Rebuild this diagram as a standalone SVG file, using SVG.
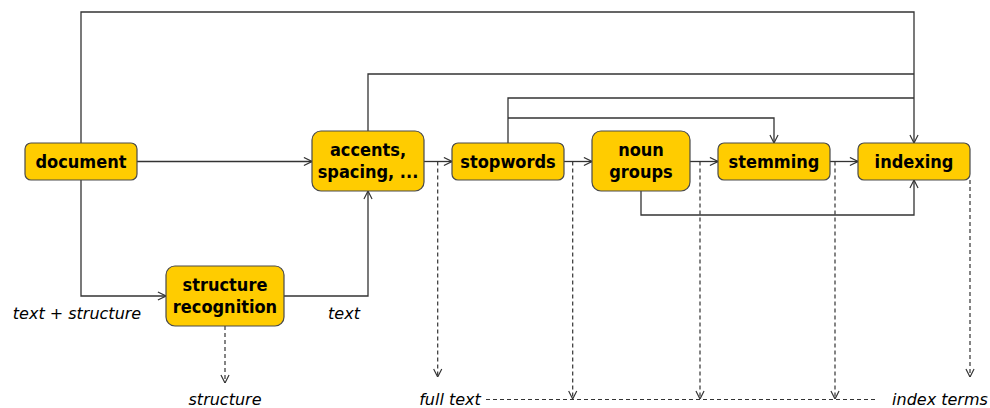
<svg xmlns="http://www.w3.org/2000/svg" width="990" height="408" viewBox="0 0 990 408">
<style>
.node rect{fill:#FFCC00;stroke:#4a4a4a;stroke-width:1.2}
.node text{font-family:"DejaVu Sans Condensed","DejaVu Sans",Verdana,sans-serif;font-stretch:condensed;font-weight:bold;font-size:18px;fill:#000;text-anchor:middle}
.lbl{font-family:"DejaVu Sans",Verdana,sans-serif;font-style:italic;font-size:16px;fill:#000;text-anchor:middle}
.c{fill:none;stroke:#333;stroke-width:1.3}
.d{fill:none;stroke:#333;stroke-width:1.2;stroke-dasharray:4 3}
</style>
<defs>
<marker id="a" viewBox="0 0 10 10" refX="10" refY="5" markerWidth="9" markerHeight="10" markerUnits="userSpaceOnUse" orient="auto">
<path d="M1,0.5 L10,5 L1,9.5" fill="none" stroke="#333" stroke-width="1.3"/>
</marker>
</defs>
<g id="connectors">
<path class="c" d="M137,161.5 H312" marker-end="url(#a)"/>
<path class="c" d="M424,161.5 H452" marker-end="url(#a)"/>
<path class="c" d="M564,161.5 H592" marker-end="url(#a)"/>
<path class="c" d="M690,161.5 H718" marker-end="url(#a)"/>
<path class="c" d="M830,161.5 H858" marker-end="url(#a)"/>
<path class="c" d="M81,143 V12 H914 V143" marker-end="url(#a)"/>
<path class="c" d="M368,131 V74 H914"/>
<path class="c" d="M508,143 V98 H914"/>
<path class="c" d="M508,118 H774 V143" marker-end="url(#a)"/>
<path class="c" d="M641,191 V215 H914 V180" marker-end="url(#a)"/>
<path class="c" d="M81,180 V296 H166" marker-end="url(#a)"/>
<path class="c" d="M284,296 H368 V191" marker-end="url(#a)"/>
<path class="d" d="M225,326 V383" marker-end="url(#a)"/>
<path class="d" d="M437.7,161.5 V377" marker-end="url(#a)"/>
<path class="d" d="M572.7,161.5 V399" marker-end="url(#a)"/>
<path class="d" d="M700,161.5 V399" marker-end="url(#a)"/>
<path class="d" d="M835,161.5 V399" marker-end="url(#a)"/>
<path class="d" d="M970,180 V377" marker-end="url(#a)"/>
<path class="d" d="M486,399.5 H878"/>
</g>
<g id="document" class="node"><rect x="25" y="143" width="112" height="37" rx="6"/><text x="81" y="167.5">document</text></g>
<g id="accents" class="node"><rect x="312" y="131" width="112" height="60" rx="9"/><text x="368" y="156">accents,</text><text x="368" y="178">spacing, ...</text></g>
<g id="stopwords" class="node"><rect x="452" y="143" width="112" height="37" rx="6"/><text x="508" y="167.5">stopwords</text></g>
<g id="noun-groups" class="node"><rect x="592" y="131" width="98" height="60" rx="9"/><text x="641" y="156">noun</text><text x="641" y="178">groups</text></g>
<g id="stemming" class="node"><rect x="718" y="143" width="112" height="37" rx="6"/><text x="774" y="167.5">stemming</text></g>
<g id="indexing" class="node"><rect x="858" y="143" width="112" height="37" rx="6"/><text x="914" y="167.5">indexing</text></g>
<g id="structure-recognition" class="node"><rect x="166" y="266" width="118" height="60" rx="9"/><text x="225" y="291">structure</text><text x="225" y="313">recognition</text></g>
<g id="labels">
<text class="lbl" x="77" y="319">text + structure</text>
<text class="lbl" x="344" y="319">text</text>
<text class="lbl" x="225" y="405">structure</text>
<text class="lbl" x="450" y="405">full text</text>
<text class="lbl" x="940" y="405">index terms</text>
</g>
</svg>
